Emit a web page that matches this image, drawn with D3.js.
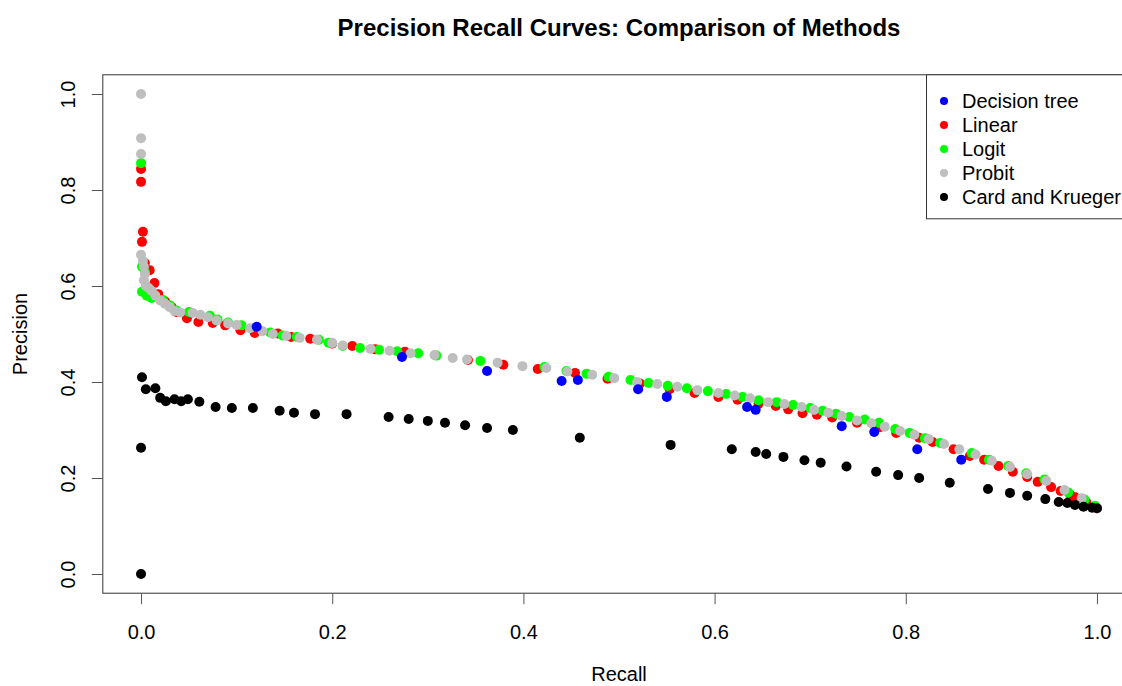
<!DOCTYPE html>
<html>
<head>
<meta charset="utf-8">
<script src="https://cdn.jsdelivr.net/npm/d3@7"></script>
<style>
  body { margin: 0; background: #fff; }
  svg { display: block; font-family: "Liberation Sans", Arial, sans-serif; }
</style>
</head>
<body>
<svg id="chart" width="1122" height="686"></svg>
<script>
// Precision / recall pairs for each method: [recall, precision]
const linearPR = [
  [0,0.844],[0,0.817],[0.002,0.713],[0.001,0.692],[0.004,0.648],[0.009,0.633],[0.014,0.606],
  [0.018,0.583],[0.025,0.568],[0.032,0.556],[0.037,0.546],[0.048,0.533],[0.060,0.525],[0.075,0.523],
  [0.088,0.518],[0.104,0.508],[0.119,0.502],[0.143,0.501],[0.157,0.494],[0.177,0.490],[0.200,0.480],
  [0.221,0.475],[0.245,0.468],[0.276,0.463],[0.342,0.446],[0.379,0.436],[0.415,0.427],[0.454,0.419],
  [0.488,0.407],[0.522,0.397],[0.553,0.385],[0.579,0.377],[0.604,0.369],[0.624,0.363],[0.646,0.355],
  [0.664,0.350],[0.677,0.343],[0.692,0.335],[0.707,0.332],[0.723,0.326],[0.749,0.315],[0.773,0.306],
  [0.790,0.294],[0.814,0.284],[0.828,0.275],[0.850,0.260],[0.867,0.246],[0.882,0.238],[0.897,0.225],
  [0.912,0.213],[0.927,0.202],[0.938,0.192],[0.952,0.181],[0.962,0.173],[0.972,0.165],[0.977,0.160],
  [0.989,0.149],[0.998,0.140],[1.0,0.137]
];
const logitPR = [
  [0,0.856],[0.001,0.640],[0.004,0.629],[0.001,0.588],[0.006,0.580],[0.011,0.575],[0.023,0.571],
  [0.030,0.560],[0.037,0.549],[0.050,0.546],[0.072,0.538],[0.080,0.530],[0.091,0.524],[0.105,0.518],
  [0.135,0.503],[0.148,0.497],[0.163,0.494],[0.186,0.488],[0.196,0.482],[0.211,0.475],[0.229,0.471],
  [0.249,0.467],[0.268,0.464],[0.290,0.460],[0.309,0.455],[0.355,0.444],[0.422,0.431],[0.445,0.423],
  [0.466,0.417],[0.489,0.411],[0.512,0.404],[0.531,0.398],[0.551,0.392],[0.571,0.387],[0.593,0.381],
  [0.612,0.375],[0.629,0.369],[0.646,0.362],[0.665,0.358],[0.682,0.352],[0.700,0.346],[0.713,0.340],
  [0.727,0.334],[0.741,0.327],[0.757,0.322],[0.772,0.315],[0.789,0.302],[0.804,0.294],[0.820,0.283],
  [0.836,0.273],[0.869,0.252],[0.887,0.238],[0.907,0.225],[0.926,0.210],[0.945,0.197],[0.970,0.170],
  [0.987,0.155],[0.998,0.142]
];
const probitPR = [
  [0,1.0],[0,0.908],[0,0.875],[0,0.665],[0.002,0.652],[0.003,0.640],[0.004,0.625],[0.003,0.612],
  [0.005,0.600],[0.008,0.596],[0.011,0.590],[0.015,0.580],[0.020,0.570],[0.025,0.563],[0.030,0.556],
  [0.035,0.548],[0.041,0.545],[0.054,0.544],[0.062,0.540],[0.070,0.535],[0.079,0.528],[0.091,0.522],
  [0.100,0.519],[0.114,0.512],[0.127,0.506],[0.138,0.500],[0.152,0.496],[0.166,0.492],[0.184,0.488],
  [0.200,0.481],[0.211,0.476],[0.240,0.469],[0.260,0.465],[0.282,0.460],[0.307,0.456],[0.326,0.450],
  [0.341,0.447],[0.373,0.440],[0.399,0.433],[0.424,0.429],[0.446,0.422],[0.472,0.415],[0.495,0.408],
  [0.519,0.400],[0.540,0.396],[0.561,0.390],[0.582,0.383],[0.604,0.377],[0.621,0.372],[0.637,0.366],
  [0.656,0.358],[0.673,0.354],[0.691,0.348],[0.704,0.342],[0.719,0.336],[0.733,0.329],[0.749,0.320],
  [0.764,0.314],[0.778,0.307],[0.794,0.298],[0.809,0.290],[0.824,0.281],[0.840,0.271],[0.856,0.260],
  [0.873,0.249],[0.890,0.236],[0.909,0.223],[0.927,0.208],[0.947,0.194],[0.966,0.175],[0.984,0.158],
  [1.0,0.137]
];
const decisionTreePR = [
  [0.121,0.515],[0.273,0.452],[0.362,0.423],[0.440,0.402],[0.457,0.404],[0.520,0.385],[0.550,0.369],
  [0.634,0.348],[0.643,0.342],[0.733,0.308],[0.767,0.296],[0.812,0.260],[0.858,0.238]
];
const cardKruegerPR = [
  [0,0],[0,0.263],[0.001,0.410],[0.005,0.385],[0.015,0.387],[0.020,0.367],[0.026,0.360],[0.035,0.364],
  [0.042,0.360],[0.049,0.364],[0.061,0.359],[0.078,0.348],[0.095,0.346],[0.117,0.346],[0.145,0.340],
  [0.160,0.336],[0.182,0.333],[0.215,0.333],[0.259,0.327],[0.280,0.323],[0.300,0.319],[0.318,0.315],
  [0.339,0.310],[0.362,0.304],[0.389,0.300],[0.459,0.284],[0.554,0.269],[0.618,0.260],[0.643,0.254],
  [0.654,0.250],[0.672,0.244],[0.694,0.237],[0.711,0.232],[0.738,0.224],[0.769,0.213],[0.792,0.206],
  [0.814,0.200],[0.846,0.190],[0.886,0.177],[0.909,0.169],[0.927,0.163],[0.946,0.156],[0.960,0.150],
  [0.969,0.148],[0.977,0.144],[0.986,0.140],[0.995,0.138],[1.0,0.137]
];

const legendLabels = ["Decision tree", "Linear", "Logit", "Probit", "Card and Krueger"];
const legendColors = ["#0000ff", "#ff0000", "#00ff00", "#bebebe", "#000000"];
const xTicks = [0, 0.2, 0.4, 0.6, 0.8, 1.0];
const yTicks = [0, 0.2, 0.4, 0.6, 0.8, 1.0];

// Draw order: smooth model curves first, then tree and baseline on top
const layers = [
  { data: linearPR, color: "#ff0000" },
  { data: logitPR, color: "#00ff00" },
  { data: probitPR, color: "#bebebe" },
  { data: decisionTreePR, color: "#0000ff" },
  { data: cardKruegerPR, color: "#000000" }
];

const svg = d3.select("#chart");
const x = d3.scaleLinear().domain([-0.04, 1.04]).range([102.8, 1135.2]);
const y = d3.scaleLinear().domain([-0.04, 1.04]).range([593.2, 74.8]);
const fmt = d3.format(".1f");

// Title
svg.append("text")
  .attr("x", (x.range()[0] + x.range()[1]) / 2)
  .attr("y", 36)
  .attr("text-anchor", "middle")
  .attr("font-size", 24)
  .attr("font-weight", "bold")
  .text("Precision Recall Curves: Comparison of Methods");

// Points
const pts = svg.append("g");
layers.forEach(layer => {
  pts.append("g").selectAll("circle")
    .data(layer.data)
    .join("circle")
    .attr("cx", d => x(d[0]))
    .attr("cy", d => y(d[1]))
    .attr("r", 5)
    .attr("fill", layer.color);
});

// Plot frame
svg.append("rect")
  .attr("x", x.range()[0]).attr("y", y.range()[1])
  .attr("width", x.range()[1] - x.range()[0])
  .attr("height", y.range()[0] - y.range()[1])
  .attr("fill", "none").attr("stroke", "#333").attr("stroke-width", 1);

// Bottom axis
const gx = svg.append("g")
  .attr("transform", `translate(0,${y.range()[0]})`)
  .call(d3.axisBottom(x).tickValues(xTicks).tickFormat(fmt).tickSize(11).tickSizeOuter(0).tickPadding(21));
gx.select(".domain").remove();
gx.selectAll(".tick line").attr("stroke", "#555");
gx.selectAll(".tick text").attr("font-size", 20).attr("fill", "#000")
  .attr("font-family", "\"Liberation Sans\", Arial, sans-serif");

// Left axis with labels turned parallel to the axis
const gy = svg.append("g")
  .attr("transform", `translate(${x.range()[0]},0)`)
  .call(d3.axisLeft(y).tickValues(yTicks).tickFormat(fmt).tickSize(11).tickSizeOuter(0));
gy.select(".domain").remove();
gy.selectAll(".tick line").attr("stroke", "#555");
gy.selectAll(".tick text")
  .attr("x", null).attr("dy", "0.35em")
  .attr("text-anchor", "middle")
  .attr("transform", "translate(-35,0) rotate(-90)")
  .attr("font-size", 20).attr("fill", "#000")
  .attr("font-family", "\"Liberation Sans\", Arial, sans-serif");

// Axis titles
svg.append("text")
  .attr("x", (x.range()[0] + x.range()[1]) / 2)
  .attr("y", 681)
  .attr("text-anchor", "middle")
  .attr("font-size", 20)
  .text("Recall");
svg.append("text")
  .attr("transform", `translate(27,${(y.range()[0] + y.range()[1]) / 2}) rotate(-90)`)
  .attr("text-anchor", "middle")
  .attr("font-size", 20)
  .text("Precision");

// Legend in the top-right corner
const legend = svg.append("g");
legend.append("rect")
  .attr("x", 926.5).attr("y", y.range()[1])
  .attr("width", x.range()[1] - 926.5).attr("height", 144)
  .attr("fill", "#fff").attr("stroke", "#333").attr("stroke-width", 1);
const items = legend.selectAll("g.item")
  .data(legendLabels)
  .join("g")
  .attr("class", "item")
  .attr("transform", (d, i) => `translate(944,${101 + i * 24})`);
items.append("circle").attr("r", 4).attr("fill", (d, i) => legendColors[i]);
items.append("text")
  .attr("x", 18).attr("dy", "0.35em")
  .attr("font-size", 20)
  .text(d => d);
</script>
</body>
</html>
